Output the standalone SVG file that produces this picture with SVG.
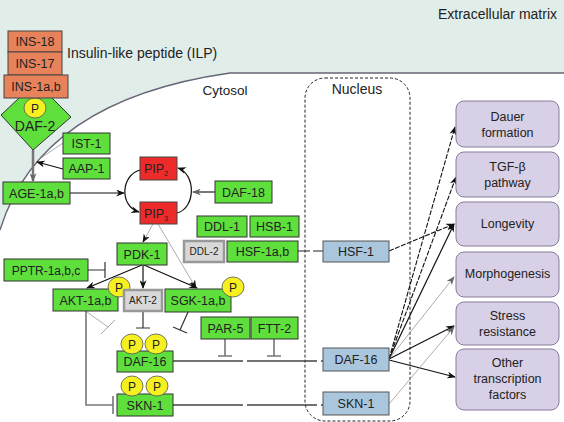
<svg xmlns="http://www.w3.org/2000/svg" width="564" height="422" viewBox="0 0 564 422">
<defs>
<style>
text{font-family:"Liberation Sans",Arial,sans-serif;fill:#222;text-anchor:middle}
.g{fill:#5fdf3c;stroke:#333;stroke-width:1}
.gr{fill:#d8d8d8;stroke:#999;stroke-width:2.5}
.r{fill:#ee2b2b;stroke:#444;stroke-width:1}
.ins{fill:#e8825a;stroke:#444;stroke-width:1}
.b{fill:#a9c6dc;stroke:#555;stroke-width:1}
.pu{fill:#d8d0e6;stroke:#8a7b9a;stroke-width:1}
.p{fill:#f7f021;stroke:#555;stroke-width:0.8}
.t14{font-size:14px}
.t13{font-size:12.5px}
.t12{font-size:12px}
.to{font-size:12.5px}
.t10{font-size:10px}
.tp{font-size:12px}
.k{fill:none;stroke:#111;stroke-width:1.2}
.gy{fill:none;stroke:#777;stroke-width:1.6}
.th{fill:none;stroke:#888;stroke-width:0.7}
.ds{fill:none;stroke:#111;stroke-width:1.1;stroke-dasharray:5,1.5}
</style>
<marker id="ak" viewBox="0 0 10 8" refX="9" refY="4" markerWidth="9" markerHeight="7" markerUnits="userSpaceOnUse" orient="auto">
<path d="M0,0 L10,4 L0,8 L3,4 Z" fill="#111"/>
</marker>
<marker id="ag" viewBox="0 0 10 8" refX="9" refY="4" markerWidth="9" markerHeight="7" markerUnits="userSpaceOnUse" orient="auto">
<path d="M0,0 L10,4 L0,8 L3,4 Z" fill="#666"/>
</marker>
</defs>
<rect width="564" height="422" fill="#e1ede9"/>
<path d="M0,230 Q40,100 230,73 L564,73 L564,422 L0,422 Z" fill="#fff"/>
<path d="M0,230 Q40,100 230,73 L564,73" fill="none" stroke="#667" stroke-width="1.3"/>
<text x="557" y="19" class="t14" style="text-anchor:end">Extracellular matrix</text>
<text x="67" y="58" class="t14" style="text-anchor:start">Insulin-like peptide (ILP)</text>
<text x="225" y="95" style="font-size:13.5px">Cytosol</text>
<rect id="nucleus" x="305" y="78" width="105" height="343" rx="20" fill="none" stroke="#222" stroke-width="1" stroke-dasharray="3,2"/>
<text x="357" y="94" class="t14">Nucleus</text>

<g id="connectors">
<line x1="33" y1="150" x2="33" y2="181" stroke="#777" stroke-width="2.5" marker-end="url(#ag)"/>
<line x1="63" y1="143" x2="38" y2="160" class="th"/>
<line x1="63" y1="169" x2="37" y2="162" class="k" marker-end="url(#ak)"/>
<line x1="70" y1="193" x2="124" y2="193" class="k" marker-end="url(#ak)"/>
<path d="M140,170 C121,175 119,206 139,212" class="k" marker-end="url(#ak)"/>
<path d="M177,213 C196,208 196,174 178,168" class="k" marker-end="url(#ak)"/>
<line x1="215" y1="192" x2="193" y2="192" stroke="#777" stroke-width="2" marker-end="url(#ag)"/>
<line x1="153" y1="224" x2="143" y2="242" class="th" marker-end="url(#ak)"/>
<line x1="158" y1="224" x2="196" y2="288" class="th" marker-end="url(#ak)"/>
<line x1="142" y1="265" x2="87" y2="288" class="k" marker-end="url(#ak)"/>
<line x1="143" y1="265" x2="143" y2="288" class="k" marker-end="url(#ak)"/>
<line x1="144" y1="265" x2="197" y2="288" class="k" marker-end="url(#ak)"/>
<path d="M88,270 L105,270 M105,262 L105,278" fill="none" stroke="#333" stroke-width="1.2"/>
<path d="M143,312 L143,328 M136,328 L150,328" fill="none" stroke="#333" stroke-width="1.2"/>
<path d="M188,312 L180,330 M173,327 L187,333" fill="none" stroke="#333" stroke-width="1.2"/>
<path d="M87,312 L108,327 M101,334 L115,320" class="th"/>
<path d="M86,311 L86,405 L113,405 M113,396 L113,414" class="gy"/>
<path d="M225,339 L225,356 M218,356 L232,356" class="gy"/>
<path d="M274,339 L274,356 M267,356 L281,356" class="gy"/>
<line x1="173" y1="361" x2="323" y2="361" stroke="#444" stroke-width="1.5" stroke-dasharray="70,4"/>
<line x1="173" y1="405" x2="323" y2="405" stroke="#444" stroke-width="1.5" stroke-dasharray="70,4"/>
<line x1="298" y1="251" x2="323" y2="251" stroke="#222" stroke-width="1.2" stroke-dasharray="12,3"/>
<line x1="389" y1="251" x2="454" y2="224" class="ds" marker-end="url(#ak)"/>
<line x1="389" y1="359" x2="455" y2="127" class="ds" marker-end="url(#ak)"/>
<line x1="389" y1="359" x2="456" y2="177" class="ds" marker-end="url(#ak)"/>
<line x1="389" y1="359" x2="454" y2="224" class="k" marker-end="url(#ak)"/>
<line x1="389" y1="359" x2="454" y2="277" class="th" marker-end="url(#ag)"/>
<line x1="389" y1="359" x2="454" y2="326" class="k" marker-end="url(#ak)"/>
<line x1="389" y1="360" x2="455" y2="377" class="k" marker-end="url(#ak)"/>
<line x1="389" y1="404" x2="454" y2="327" class="th" marker-end="url(#ag)"/>
</g>

<g id="daf2"><path class="g" d="M36,82 L71,117 L33,150 L1,115 Z"/><ellipse class="p" cx="35" cy="108" rx="11" ry="10"/><text x="35" y="112.5" class="tp">P</text><text x="35" y="131" class="t14">DAF-2</text></g>
<g id="ins18"><rect class="ins" x="8" y="31" width="54" height="21"/><text x="35" y="46" class="t13">INS-18</text></g>
<g id="ins17"><rect class="ins" x="8" y="52" width="54" height="23"/><text x="35" y="68" class="t13">INS-17</text></g>
<g id="ins1"><rect class="ins" x="4" y="75" width="64" height="23"/><text x="36" y="91" class="t13">INS-1a,b</text></g>
<g id="ist1"><rect class="g" x="63" y="133" width="47" height="21"/><text x="86.5" y="148" class="t13">IST-1</text></g>
<g id="aap1"><rect class="g" x="63" y="158" width="47" height="21"/><text x="86.5" y="173" class="t13">AAP-1</text></g>
<g id="age1"><rect class="g" x="3" y="182" width="67" height="22"/><text x="36.5" y="197.5" class="t13">AGE-1a,b</text></g>
<g id="pip2"><rect class="r" x="140" y="157" width="37" height="23"/><text x="156" y="173" class="t13">PIP<tspan font-size="7" dy="3">2</tspan></text></g>
<g id="pip3"><rect class="r" x="140" y="202" width="37" height="22"/><text x="156" y="218" class="t13">PIP<tspan font-size="7" dy="3">3</tspan></text></g>
<g id="daf18"><rect class="g" x="215" y="181" width="57" height="22"/><text x="243.5" y="196.5" class="t13">DAF-18</text></g>
<g id="ddl1"><rect class="g" x="197" y="216" width="50" height="21"/><text x="222" y="231" class="t13">DDL-1</text></g>
<g id="hsb1"><rect class="g" x="250" y="216" width="49" height="21"/><text x="274.5" y="231" class="t13">HSB-1</text></g>
<g id="ddl2"><rect class="gr" x="184" y="241" width="40" height="21"/><text x="204" y="255" class="t10">DDL-2</text></g>
<g id="hsf1ab"><rect class="g" x="227" y="241" width="71" height="21"/><text x="262.5" y="256" class="t13">HSF-1a,b</text></g>
<g id="pdk1"><rect class="g" x="117" y="243" width="50" height="22"/><text x="142" y="258.5" class="t13">PDK-1</text></g>
<g id="pptr1"><rect class="g" x="4" y="259" width="84" height="22"/><text x="46" y="274.5" class="t12">PPTR-1a,b,c</text></g>
<g id="akt1"><rect class="g" x="53" y="289" width="65" height="22"/><text x="85.5" y="304.5" class="t13">AKT-1a,b</text><ellipse class="p" cx="119" cy="287" rx="11" ry="10"/><text x="119" y="291.5" class="tp">P</text></g>
<g id="akt2"><rect class="gr" x="124" y="290" width="38" height="21"/><text x="143" y="304" class="t10">AKT-2</text></g>
<g id="sgk1"><rect class="g" x="165" y="289" width="66" height="23"/><text x="198" y="305" class="t13">SGK-1a,b</text><ellipse class="p" cx="233" cy="287" rx="11" ry="10"/><text x="233" y="291.5" class="tp">P</text></g>
<g id="par5"><rect class="g" x="201" y="317" width="49" height="22"/><text x="225.5" y="332.5" class="t13">PAR-5</text></g>
<g id="ftt2"><rect class="g" x="251" y="317" width="47" height="22"/><text x="274.5" y="332.5" class="t13">FTT-2</text></g>
<g id="daf16c"><rect class="g" x="117" y="351" width="56" height="21"/><text x="145" y="366" class="t13">DAF-16</text><ellipse class="p" cx="132" cy="344" rx="11" ry="10"/><text x="132" y="348.5" class="tp">P</text><ellipse class="p" cx="156" cy="344" rx="11" ry="10"/><text x="156" y="348.5" class="tp">P</text></g>
<g id="skn1c"><rect class="g" x="117" y="394" width="56" height="22"/><text x="145" y="409.5" class="t13">SKN-1</text><ellipse class="p" cx="132" cy="386" rx="11" ry="10"/><text x="132" y="390.5" class="tp">P</text><ellipse class="p" cx="157" cy="386" rx="11" ry="10"/><text x="157" y="390.5" class="tp">P</text></g>
<g id="hsf1n"><rect class="b" x="323" y="241" width="66" height="21"/><text x="356" y="256" class="t13">HSF-1</text></g>
<g id="daf16n"><rect class="b" x="323" y="348" width="66" height="23"/><text x="356" y="364" class="t13">DAF-16</text></g>
<g id="skn1n"><rect class="b" x="323" y="392" width="66" height="23"/><text x="356" y="408" class="t13">SKN-1</text></g>
<g id="dauer"><rect class="pu" x="456" y="101" width="103" height="46" rx="8"/><text x="507.5" y="121" class="to">Dauer</text><text x="507.5" y="137" class="to">formation</text></g>
<g id="tgfb"><rect class="pu" x="456" y="152" width="103" height="45" rx="8"/><text x="507.5" y="171" class="to">TGF-β</text><text x="507.5" y="187" class="to">pathway</text></g>
<g id="longevity"><rect class="pu" x="456" y="202" width="103" height="44" rx="8"/><text x="507.5" y="228" class="to">Longevity</text></g>
<g id="morpho"><rect class="pu" x="456" y="252" width="103" height="45" rx="8"/><text x="507.5" y="278" class="to">Morphogenesis</text></g>
<g id="stress"><rect class="pu" x="456" y="302" width="103" height="43" rx="8"/><text x="507.5" y="320" class="to">Stress</text><text x="507.5" y="336" class="to">resistance</text></g>
<g id="other"><rect class="pu" x="456" y="349" width="103" height="61" rx="8"/><text x="507.5" y="367" class="to">Other</text><text x="507.5" y="383" class="to">transcription</text><text x="507.5" y="399" class="to">factors</text></g>
</svg>
